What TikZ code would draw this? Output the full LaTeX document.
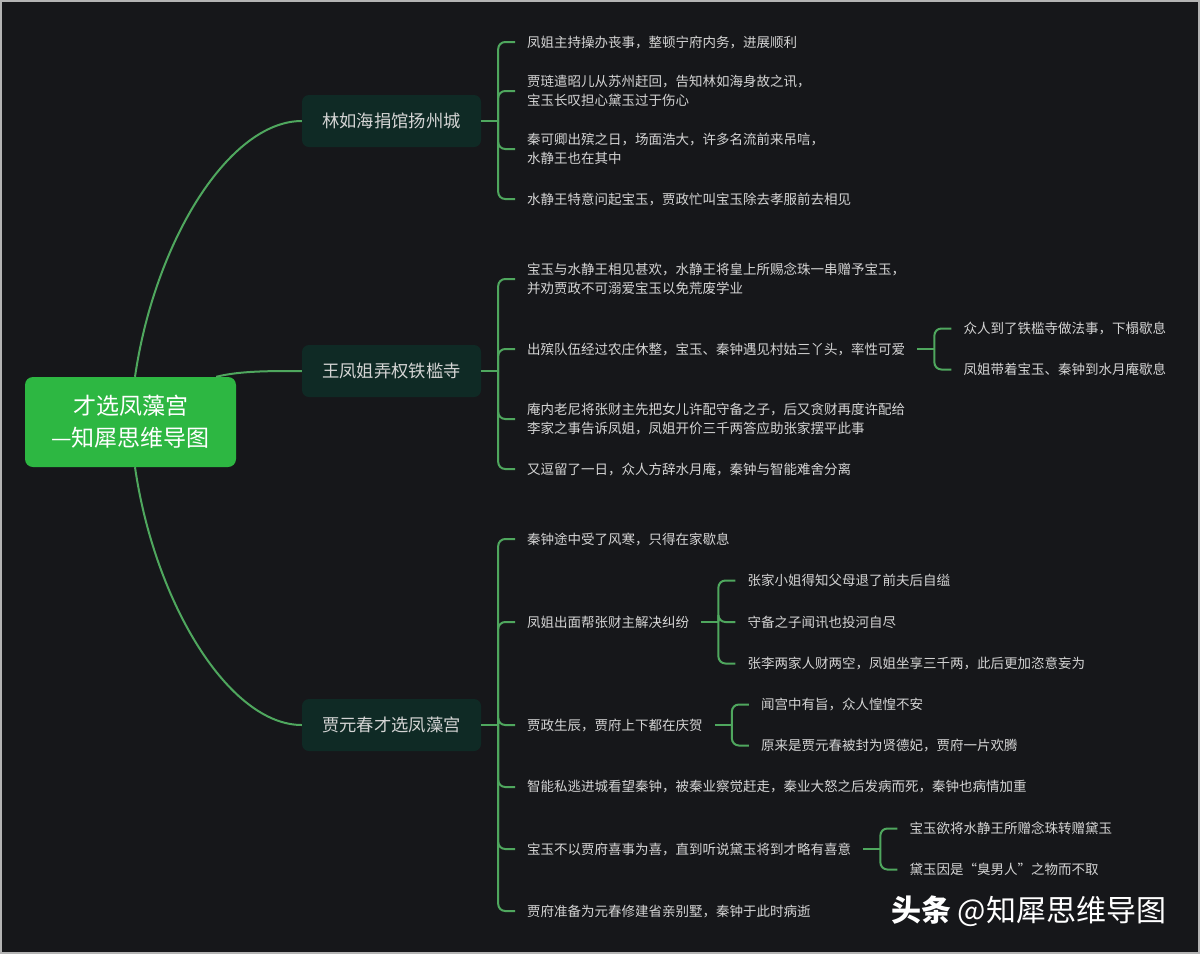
\documentclass[tikz,border=0pt]{standalone}
\usepackage{fontspec}
\newfontfamily\cjk{Noto Sans CJK SC}
\usetikzlibrary{positioning}

\definecolor{bg}{HTML}{16171A}
\definecolor{frame}{HTML}{B4B4B4}
\definecolor{rootgreen}{HTML}{2DB742}
\definecolor{topicbg}{HTML}{0F2A25}
\definecolor{linkgreen}{HTML}{4FA75E}
\definecolor{leaftext}{HTML}{D4D4D4}

\begin{document}
\begin{tikzpicture}[x=1pt, y=-1pt,
	root/.style={fill=rootgreen, rounded corners=8pt, minimum width=211pt, minimum height=90pt, align=center, text=white, font=\cjk\fontsize{23}{32}\selectfont},
	topic/.style={fill=topicbg, rounded corners=7pt, minimum width=179pt, minimum height=52pt, text=leaftext, font=\cjk\fontsize{17.3}{20}\selectfont},
	leaf/.style={anchor=west, inner xsep=12pt, inner ysep=2pt, align=left, text=leaftext, font=\cjk\fontsize{13.5}{19}\selectfont},
	link/.style={draw=linkgreen, line width=2pt, rounded corners=7pt},
	curve/.style={draw=linkgreen, line width=2pt},
	stamp/.style={anchor=west, inner sep=0pt, text=white, font=\cjk\fontsize{30}{32}\selectfont}
	]
	\useasboundingbox (0,0) rectangle (1200,954);
	\fill[bg, draw=frame, line width=2pt] (1,1) rectangle (1199,953);

	\node[root] (root) at (130.5,422) {才选凤藻宫\\—知犀思维导图};
	\node[topic] (b1) at (391.5,121) {林如海捐馆扬州城};
	\node[topic] (b2) at (391.5,371) {王凤姐弄权铁槛寺};
	\node[topic] (b3) at (391.5,725) {贾元春才选凤藻宫};

	\node[leaf] (l11) at (515,42) {凤姐主持操办丧事，整顿宁府内务，进展顺利};
	\node[leaf] (l12) at (515,91) {贾琏遣昭儿从苏州赶回，告知林如海身故之讯，\\宝玉长叹担心黛玉过于伤心};
	\node[leaf] (l13) at (515,149) {秦可卿出殡之日，场面浩大，许多名流前来吊唁，\\水静王也在其中};
	\node[leaf] (l14) at (515,199) {水静王特意问起宝玉，贾政忙叫宝玉除去孝服前去相见};

	\node[leaf] (l21) at (515,279) {宝玉与水静王相见甚欢，水静王将皇上所赐念珠一串赠予宝玉，\\并劝贾政不可溺爱宝玉以免荒废学业};
	\node[leaf] (l22) at (515,349) {出殡队伍经过农庄休整，宝玉、秦钟遇见村姑三丫头，率性可爱};
	\node[leaf] (l23) at (515,419) {庵内老尼将张财主先把女儿许配守备之子，后又贪财再度许配给\\李家之事告诉凤姐，凤姐开价三千两答应助张家摆平此事};
	\node[leaf] (l24) at (515,469) {又逗留了一日，众人方辞水月庵，秦钟与智能难舍分离};
	\node[leaf, right=34pt of l22, yshift=20.5pt] (l221) {众人到了铁槛寺做法事，下榻歇息};
	\node[leaf, right=34pt of l22, yshift=-20.5pt] (l222) {凤姐带着宝玉、秦钟到水月庵歇息};

	\node[leaf] (l31) at (515,539) {秦钟途中受了风寒，只得在家歇息};
	\node[leaf] (l32) at (515,622) {凤姐出面帮张财主解决纠纷};
	\node[leaf] (l33) at (515,725) {贾政生辰，贾府上下都在庆贺};
	\node[leaf] (l34) at (515,787) {智能私逃进城看望秦钟，被秦业察觉赶走，秦业大怒之后发病而死，秦钟也病情加重};
	\node[leaf] (l35) at (515,849) {宝玉不以贾府喜事为喜，直到听说黛玉将到才略有喜意};
	\node[leaf] (l36) at (515,911) {贾府准备为元春修建省亲别墅，秦钟于此时病逝};
	\node[leaf, right=34pt of l32, yshift=41.5pt] (l321) {张家小姐得知父母退了前夫后自缢};
	\node[leaf, right=34pt of l32] (l322) {守备之子闻讯也投河自尽};
	\node[leaf, right=34pt of l32, yshift=-41.5pt] (l323) {张李两家人财两空，凤姐坐享三千两，此后更加恣意妄为};
	\node[leaf, right=34pt of l33, yshift=20.5pt] (l331) {闻宫中有旨，众人惶惶不安};
	\node[leaf, right=34pt of l33, yshift=-20.5pt] (l332) {原来是贾元春被封为贤德妃，贾府一片欢腾};
	\node[leaf, right=34pt of l35, yshift=20.5pt] (l351) {宝玉欲将水静王所赠念珠转赠黛玉};
	\node[leaf, right=34pt of l35, yshift=-20.5pt] (l352) {黛玉因是“臭男人”之物而不取};

	\node[stamp] (wm) at (891,911) {{\bfseries 头条} @知犀思维导图};

	\draw[curve] ([xshift=4.5pt]root.north) .. controls +(20,-137) and +(-72,0) .. (b1.west);
	\draw[curve] ([xshift=-20pt]root.north east) .. controls +(24,-6) and +(-32,0) .. (b2.west);
	\draw[curve] ([xshift=4.5pt]root.south) .. controls +(20,137) and +(-72,0) .. (b3.west);

	\coordinate[right=17pt of b1] (j1);
	\coordinate[right=17pt of b2] (j2);
	\coordinate[right=17pt of b3] (j3);
	\coordinate[right=17pt of l22] (j22);
	\coordinate[right=17pt of l32] (j32);
	\coordinate[right=17pt of l33] (j33);
	\coordinate[right=17pt of l35] (j35);

	\draw[link] (b1.east) -- (j1);
	\draw[link] (b2.east) -- (j2);
	\draw[link] (b3.east) -- (j3);
	\draw[link] (l22.east) -- (j22);
	\draw[link] (l32.east) -- (j32);
	\draw[link] (l33.east) -- (j33);
	\draw[link] (l35.east) -- (j35);
	\foreach \l in {l11,l12,l13,l14} \draw[link] (j1) |- (\l.west);
	\foreach \l in {l21,l22,l23,l24} \draw[link] (j2) |- (\l.west);
	\foreach \l in {l31,l32,l33,l34,l35,l36} \draw[link] (j3) |- (\l.west);
	\foreach \l in {l221,l222} \draw[link] (j22) |- (\l.west);
	\foreach \l in {l321,l322,l323} \draw[link] (j32) |- (\l.west);
	\foreach \l in {l331,l332} \draw[link] (j33) |- (\l.west);
	\foreach \l in {l351,l352} \draw[link] (j35) |- (\l.west);
\end{tikzpicture}
\end{document}
